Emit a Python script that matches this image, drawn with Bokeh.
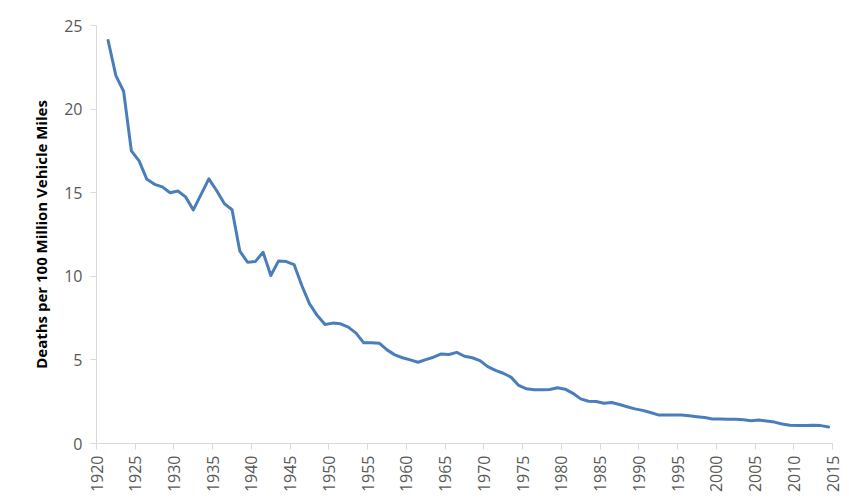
from bokeh.plotting import figure
from bokeh.models import ColumnDataSource, FixedTicker, Range1d
from bokeh.transform import dodge
from bokeh.embed import file_html
from bokeh.resources import INLINE
import math

years = list(range(1921, 2015))
deaths_per_100m_vmt = [
    24.1, 22.0, 21.07, 17.5, 16.9, 15.8, 15.5, 15.35, 15.0, 15.1,      # 1921-1930
    14.75, 13.97, 14.9, 15.83, 15.13, 14.35, 13.98, 11.5, 10.84, 10.88,  # 1931-1940
    11.44, 10.05, 10.92, 10.88, 10.7, 9.45, 8.35, 7.65, 7.12, 7.2,       # 1941-1950
    7.16, 6.96, 6.6, 6.02, 6.02, 6.0, 5.6, 5.3, 5.13, 5.0,               # 1951-1960
    4.86, 5.02, 5.16, 5.36, 5.32, 5.45, 5.22, 5.13, 4.96, 4.6,           # 1961-1970
    4.37, 4.2, 3.97, 3.47, 3.27, 3.21, 3.21, 3.23, 3.33, 3.25,           # 1971-1980
    3.0, 2.67, 2.53, 2.51, 2.41, 2.45, 2.33, 2.2, 2.07, 1.98,            # 1981-1990
    1.85, 1.71, 1.71, 1.71, 1.71, 1.66, 1.6, 1.55, 1.47, 1.46,           # 1991-2000
    1.45, 1.45, 1.42, 1.36, 1.40, 1.35, 1.28, 1.17, 1.09, 1.08,          # 2001-2010
    1.08, 1.09, 1.07, 0.99,                                              # 2011-2014
]
x_ticks = list(range(1920, 2016, 5))
y_ticks = [0, 5, 10, 15, 20, 25]
y_title = "Deaths per 100 Million Vehicle Miles"

source = ColumnDataSource(data=dict(year=years, rate=deaths_per_100m_vmt))

p = figure(width=849, height=500, output_backend="svg", toolbar_location=None,
           x_range=Range1d(1920, 2015), y_range=Range1d(0, 25),
           min_border_left=96, min_border_right=17, min_border_top=25, min_border_bottom=57)

p.line(x=dodge("year", 0.5), y="rate", source=source, line_color="#4a7ebb", line_width=3,
       line_join="round", line_cap="round")

p.xgrid.visible = False
p.ygrid.visible = False
p.outline_line_color = None
p.background_fill_color = "white"
p.border_fill_color = "white"

gray_axis = "#d9d9d9"
label_col = "#595959"
font = "Open Sans"

p.xaxis.ticker = FixedTicker(ticks=x_ticks)
p.xaxis.major_label_orientation = math.pi / 2
p.yaxis.ticker = FixedTicker(ticks=y_ticks)
for ax in (p.xaxis[0], p.yaxis[0]):
    ax.axis_line_color = gray_axis
    ax.axis_line_width = 1
    ax.major_tick_line_color = gray_axis
    ax.major_tick_out = 6
    ax.major_tick_in = 0
    ax.minor_tick_line_color = None
    ax.major_label_text_color = label_col
    ax.major_label_text_font = font
    ax.major_label_text_font_size = "16px"
p.xaxis.major_label_standoff = 6
p.yaxis.major_label_standoff = 8

p.yaxis.axis_label = y_title
p.yaxis.axis_label_text_font = font
p.yaxis.axis_label_text_font_style = "bold"
p.yaxis.axis_label_text_font_size = "15px"
p.yaxis.axis_label_text_color = "black"
p.yaxis.axis_label_standoff = 10

open("out.html", "w").write(file_html(p, INLINE))
